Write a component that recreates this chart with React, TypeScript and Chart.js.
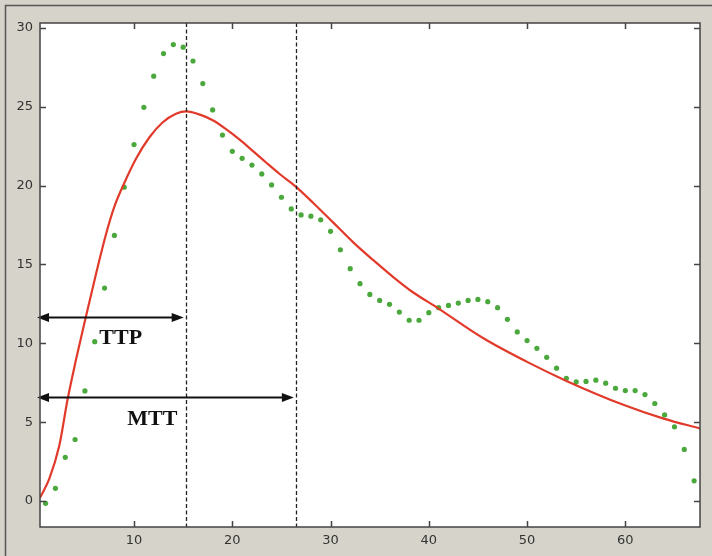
import React, { useEffect, useRef } from "react";
import { Chart, registerables } from "chart.js";

Chart.register(...registerables);

// Measured signal samples (green dots)
const sampleX = [1,2,3,4,5,6,7,8,9,10,11,12,13,14,15,16,17,18,19,20,21,22,23,24,25,26,27,28,29,30,31,32,33,34,35,36,37,38,39,40,41,42,43,44,45,46,47,48,49,50,51,52,53,54,55,56,57,58,59,60,61,62,63,64,65,66,67];
const sampleY = [-0.15,0.8,2.77,3.9,6.98,10.1,13.5,16.84,19.9,22.6,24.96,26.94,28.37,28.94,28.78,27.9,26.47,24.8,23.2,22.17,21.73,21.3,20.74,20.04,19.26,18.52,18.14,18.06,17.83,17.1,15.93,14.73,13.78,13.1,12.72,12.47,11.98,11.46,11.46,11.94,12.26,12.4,12.55,12.72,12.78,12.64,12.26,11.52,10.72,10.17,9.68,9.11,8.42,7.78,7.55,7.58,7.66,7.47,7.15,7.0,7.0,6.75,6.18,5.46,4.7,3.27,1.28];

// Fitted curve (red)
const fitX = [0.43,1.37,2.39,3.24,4.09,5.1,6.13,7.14,7.99,9.0,10.2,11.55,12.9,14.27,15.3,16.7,18.06,19.43,20.78,22.14,23.5,24.85,26.4,28.24,30.28,32.31,34.35,36.38,38.42,40.8,45.6,50.0,54.06,59.8,63.9,67.6];
const fitY = [0.2,1.4,3.5,6.45,8.95,11.69,14.4,16.9,18.65,20.15,21.7,23.05,24.0,24.55,24.7,24.5,24.13,23.55,22.9,22.17,21.43,20.72,19.97,18.9,17.65,16.4,15.27,14.2,13.22,12.28,10.3,8.82,7.6,6.1,5.22,4.6];

const xTicks = [10,20,30,40,50,60];
const yTicks = [0,5,10,15,20,25,30];
const xRange = [0.43, 67.6];
const yRange = [-1.65, 30.31];

const ttpX = 15.26;
const mttX = 26.47;
const ttpArrowY = 11.63;
const mttArrowY = 6.56;
const labels = [
  { text: "TTP", x: 6.47, y: 10.36 },
  { text: "MTT", x: 9.32, y: 5.23 },
];

const overlay = {
  id: "overlay",
  afterDatasetsDraw(chart: any) {
    const { ctx, chartArea: a, scales } = chart;
    const xs = scales.x, ys = scales.y;
    ctx.save();
    // dashed vertical lines
    ctx.strokeStyle = "#222";
    ctx.lineWidth = 1.3;
    ctx.setLineDash([4, 2.5]);
    [ttpX, mttX].forEach((v) => {
      const px = Math.round(xs.getPixelForValue(v)) + 0.5;
      ctx.beginPath();
      ctx.moveTo(px, a.top);
      ctx.lineTo(px, a.bottom);
      ctx.stroke();
    });
    ctx.setLineDash([]);
    // arrows
    const arrow = (x1: number, x2: number, y: number) => {
      ctx.strokeStyle = "#111";
      ctx.fillStyle = "#111";
      ctx.lineWidth = 2;
      ctx.beginPath();
      ctx.moveTo(x1 + 4, y);
      ctx.lineTo(x2 - 4, y);
      ctx.stroke();
      const hl = 12, hh = 4.5;
      ctx.beginPath();
      ctx.moveTo(x1, y);
      ctx.lineTo(x1 + hl, y - hh);
      ctx.lineTo(x1 + hl, y + hh);
      ctx.closePath();
      ctx.fill();
      ctx.beginPath();
      ctx.moveTo(x2, y);
      ctx.lineTo(x2 - hl, y - hh);
      ctx.lineTo(x2 - hl, y + hh);
      ctx.closePath();
      ctx.fill();
    };
    arrow(a.left - 3, xs.getPixelForValue(ttpX) - 2, ys.getPixelForValue(ttpArrowY));
    arrow(a.left - 3, xs.getPixelForValue(mttX) - 2, ys.getPixelForValue(mttArrowY));
    // labels
    ctx.font = "bold 22px 'Liberation Serif', 'DejaVu Serif', serif";
    ctx.fillStyle = "#111";
    ctx.textAlign = "left";
    ctx.textBaseline = "middle";
    labels.forEach((l) => {
      ctx.fillText(l.text, xs.getPixelForValue(l.x), ys.getPixelForValue(l.y) + 1);
    });
    // box + inward ticks
    ctx.strokeStyle = "#444";
    ctx.lineWidth = 1.5;
    ctx.strokeRect(a.left, a.top, a.right - a.left, a.bottom - a.top);
    const tl = 6;
    ctx.lineWidth = 1.5;
    xTicks.forEach((v) => {
      const px = Math.round(xs.getPixelForValue(v)) + 0.5;
      ctx.beginPath();
      ctx.moveTo(px, a.bottom);
      ctx.lineTo(px, a.bottom - tl);
      ctx.moveTo(px, a.top);
      ctx.lineTo(px, a.top + tl);
      ctx.stroke();
    });
    yTicks.forEach((v) => {
      const py = Math.round(ys.getPixelForValue(v)) + 0.5;
      ctx.beginPath();
      ctx.moveTo(a.left, py);
      ctx.lineTo(a.left + tl, py);
      ctx.moveTo(a.right, py);
      ctx.lineTo(a.right - tl, py);
      ctx.stroke();
    });
    ctx.restore();
  },
};

const frame = {
  id: "frame",
  beforeDraw(chart: any) {
    const { ctx, width, height, chartArea: a } = chart;
    ctx.save();
    ctx.fillStyle = "#d6d3ca";
    ctx.fillRect(0, 0, width, height);
    ctx.strokeStyle = "#555";
    ctx.lineWidth = 1.5;
    ctx.beginPath();
    ctx.moveTo(5.5, height);
    ctx.lineTo(5.5, 5.5);
    ctx.lineTo(width, 5.5);
    ctx.stroke();
    ctx.fillStyle = "#ffffff";
    ctx.fillRect(a.left, a.top, a.right - a.left, a.bottom - a.top);
    ctx.restore();
  },
};

export default function App() {
  const ref = useRef<HTMLCanvasElement | null>(null);
  useEffect(() => {
    if (!ref.current) return;
    const chart = new Chart(ref.current, {
      type: "scatter",
      data: {
        datasets: [
          {
            label: "fit",
            data: fitX.map((x, i) => ({ x, y: fitY[i] })),
            showLine: true,
            borderColor: "#e23a2a",
            borderWidth: 2.2,
            pointRadius: 0,
            cubicInterpolationMode: "monotone",
            order: 1,
          } as any,
          {
            label: "signal",
            data: sampleX.map((x, i) => ({ x, y: sampleY[i] })),
            showLine: false,
            pointRadius: 2.6,
            pointBackgroundColor: "#4aa83c",
            pointBorderWidth: 0,
            order: 2,
          },
        ],
      },
      options: {
        animation: false,
        responsive: false,
        devicePixelRatio: 1,
        layout: { padding: { left: 0, top: 23, right: 12, bottom: 0 } },
        plugins: { legend: { display: false }, tooltip: { enabled: false } },
        scales: {
          x: {
            type: "linear",
            min: xRange[0],
            max: xRange[1],
            afterBuildTicks: (s: any) => {
              s.ticks = xTicks.map((v) => ({ value: v }));
            },
            afterFit: (s: any) => {
              s.height = 29;
            },
            grid: { display: false, drawTicks: false },
            border: { display: false },
            ticks: {
              padding: 6,
              color: "#333",
              font: { family: "'DejaVu Sans', sans-serif", size: 13 },
              maxRotation: 0,
            },
          },
          y: {
            type: "linear",
            min: yRange[0],
            max: yRange[1],
            afterBuildTicks: (s: any) => {
              s.ticks = yTicks.map((v) => ({ value: v }));
            },
            afterFit: (s: any) => {
              s.width = 40;
            },
            grid: { display: false, drawTicks: false },
            border: { display: false },
            ticks: {
              padding: 7,
              color: "#333",
              font: { family: "'DejaVu Sans', sans-serif", size: 13 },
            },
          },
        },
      },
      plugins: [frame, overlay],
    });
    return () => chart.destroy();
  }, []);
  return (
    <div style={{ position: "fixed", left: 0, top: 0, width: 712, height: 556 }}>
      <canvas ref={ref} width={712} height={556} style={{ width: 712, height: 556 }} />
    </div>
  );
}
